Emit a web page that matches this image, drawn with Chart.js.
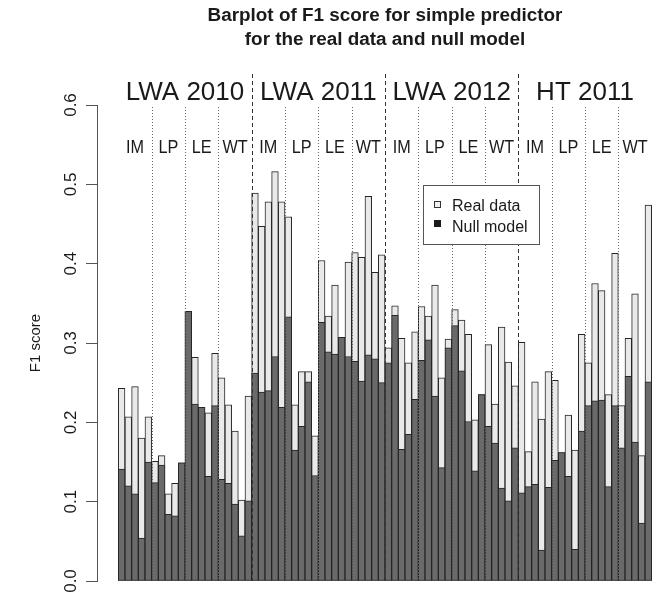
<!DOCTYPE html>
<html>
<head>
<meta charset="utf-8">
<script src="https://cdn.jsdelivr.net/npm/chart.js@4/dist/chart.umd.min.js"></script>
<style>
  html, body { margin: 0; padding: 0; background: #fff; }
  #wrap { width: 668px; height: 597px; position: relative; }
</style>
</head>
<body>
<div id="wrap"><canvas id="chart"></canvas></div>
<script>
const datasetNames = ["LWA 2010", "LWA 2011", "LWA 2012", "HT 2011"];
const groupNames = ["IM", "LP", "LE", "WT"];
const barsPerGroup = 5;
const yTicks = [0.0, 0.1, 0.2, 0.3, 0.4, 0.5, 0.6];

// real data F1 (light bars), 4 datasets x 4 groups x 5
const realData = [
    0.243, 0.207, 0.245, 0.180, 0.207,  0.151, 0.158, 0.110, 0.123, 0.149,
    0.340, 0.282, 0.219, 0.212, 0.287,  0.256, 0.222, 0.189, 0.102, 0.233,
    0.489, 0.447, 0.478, 0.516, 0.478,  0.459, 0.222, 0.264, 0.264, 0.183,
    0.404, 0.334, 0.373, 0.307, 0.402,  0.414, 0.408, 0.485, 0.389, 0.411,
    0.294, 0.347, 0.306, 0.275, 0.314,  0.346, 0.334, 0.373, 0.256, 0.305,
    0.342, 0.329, 0.311, 0.203, 0.235,  0.298, 0.223, 0.320, 0.276, 0.246,
    0.301, 0.163, 0.251, 0.204, 0.264,  0.253, 0.162, 0.209, 0.165, 0.311,
    0.275, 0.375, 0.366, 0.235, 0.413,  0.221, 0.306, 0.362, 0.158, 0.474
];
// null model F1 (dark bars)
const nullData = [
    0.141, 0.120, 0.110, 0.054, 0.150,  0.124, 0.146, 0.084, 0.082, 0.149,
    0.340, 0.223, 0.219, 0.132, 0.221,  0.128, 0.123, 0.097, 0.057, 0.101,
    0.262, 0.238, 0.240, 0.283, 0.219,  0.333, 0.165, 0.195, 0.251, 0.133,
    0.326, 0.289, 0.286, 0.307, 0.283,  0.277, 0.252, 0.285, 0.280, 0.250,
    0.275, 0.335, 0.166, 0.185, 0.229,  0.278, 0.304, 0.233, 0.143, 0.294,
    0.322, 0.265, 0.201, 0.139, 0.235,  0.195, 0.174, 0.117, 0.101, 0.168,
    0.111, 0.119, 0.122, 0.039, 0.118,  0.152, 0.162, 0.132, 0.040, 0.189,
    0.221, 0.227, 0.228, 0.119, 0.221,  0.168, 0.258, 0.175, 0.073, 0.251
];

const FONT = '"Liberation Sans", Arial, Helvetica, sans-serif';
const nBars = realData.length;
const toPoints = arr => arr.map((v, i) => ({ x: i, y: v }));

function drawText(ctx, s, x, y, font, opts = {}) {
    ctx.save();
    ctx.font = font;
    ctx.fillStyle = opts.color || "#1a1a1a";
    ctx.textAlign = opts.align || "center";
    ctx.textBaseline = opts.baseline || "alphabetic";
    ctx.translate(x, y);
    if (opts.rotate) ctx.rotate(opts.rotate);
    ctx.scale(opts.sx || 1, opts.sy || 1);
    ctx.fillText(s, 0, 0);
    ctx.restore();
}

const decor = {
    id: "decor",
    afterDatasetsDraw(chart) {
        const { ctx, scales: { x, y } } = chart;
        const bottom = y.getPixelForValue(0);
        // separators between groups / datasets
        for (let g = 1; g < datasetNames.length * groupNames.length; g++) {
            const px = Math.round(x.getPixelForValue(g * barsPerGroup - 0.5)) + 0.5;
            const major = g % groupNames.length === 0;
            ctx.save();
            ctx.strokeStyle = major ? "#333" : "#666";
            ctx.lineWidth = 1;
            ctx.setLineDash(major ? [4, 3] : [1, 2]);
            ctx.beginPath();
            ctx.moveTo(px, major ? 74 : 107);
            ctx.lineTo(px, bottom);
            ctx.stroke();
            ctx.restore();
        }
        // legend
        ctx.save();
        ctx.fillStyle = "#fff";
        ctx.strokeStyle = "#555";
        ctx.lineWidth = 1;
        ctx.fillRect(423, 185, 117, 60);
        ctx.strokeRect(423.5, 185.5, 116, 59);
        ctx.fillStyle = "#f0f0f0";
        ctx.strokeStyle = "#333";
        ctx.fillRect(434, 201, 7, 7);
        ctx.strokeRect(434.5, 201.5, 6, 6);
        ctx.fillStyle = "#1a1a1a";
        ctx.fillRect(434, 220, 7, 7);
        ctx.restore();
        drawText(ctx, "Real data", 452, 211, "16px " + FONT, { align: "left" });
        drawText(ctx, "Null model", 452, 232, "16px " + FONT, { align: "left" });
    },
    afterDraw(chart) {
        const { ctx, scales: { x, y } } = chart;
        const cx = (x.getPixelForValue(-0.5) + x.getPixelForValue(nBars - 0.5)) / 2;
        drawText(ctx, "Barplot of F1 score for simple predictor", cx, 21, "bold 18px " + FONT, { sx: 1.05 });
        drawText(ctx, "for the real data and null model", cx, 45, "bold 18px " + FONT, { sx: 1.05 });
        const per = groupNames.length * barsPerGroup;
        datasetNames.forEach((name, d) => {
            const px = x.getPixelForValue(d * per + per / 2 - 0.5);
            drawText(ctx, name, px, 100, "26px " + FONT);
            groupNames.forEach((gname, g) => {
                const gx = x.getPixelForValue(d * per + g * barsPerGroup + barsPerGroup / 2 - 0.5);
                drawText(ctx, gname, gx, 153, "18px " + FONT, { sx: 0.9 });
            });
        });
        yTicks.forEach(v => {
            drawText(ctx, v.toFixed(1), 71, y.getPixelForValue(v), "17px " + FONT,
                { rotate: -Math.PI / 2, baseline: "middle" });
        });
        drawText(ctx, "F1 score", 36, (y.top + y.bottom) / 2, "15px " + FONT,
            { rotate: -Math.PI / 2, baseline: "middle" });
    }
};

new Chart(document.getElementById("chart"), {
    type: "bar",
    data: {
        datasets: [
            { label: "Real data", data: toPoints(realData), backgroundColor: "#e9e9e9", borderColor: "#262626",
              borderWidth: 1, borderSkipped: false, grouped: false, order: 2,
              barPercentage: 1, categoryPercentage: 1 },
            { label: "Null model", data: toPoints(nullData), backgroundColor: "#6a6a6a", borderColor: "#262626",
              borderWidth: 1, borderSkipped: false, grouped: false, order: 1,
              barPercentage: 1, categoryPercentage: 1 }
        ]
    },
    options: {
        responsive: true,
        maintainAspectRatio: false,
        animation: false,
        layout: { padding: { top: 105, bottom: 16, left: 0, right: 0 } },
        plugins: { legend: { display: false }, title: { display: false }, tooltip: { enabled: false } },
        scales: {
            x: { type: "linear", min: -3.695, max: 81.95, offset: false, display: false },
            y: {
                min: 0, max: 0.6,
                ticks: { display: false, stepSize: 0.1 },
                grid: { drawOnChartArea: false, drawTicks: true, tickLength: 11, color: "#555" },
                border: { display: true, color: "#555" },
                afterFit: s => { s.width = 97; }
            }
        }
    },
    plugins: [decor]
});
</script>
</body>
</html>
